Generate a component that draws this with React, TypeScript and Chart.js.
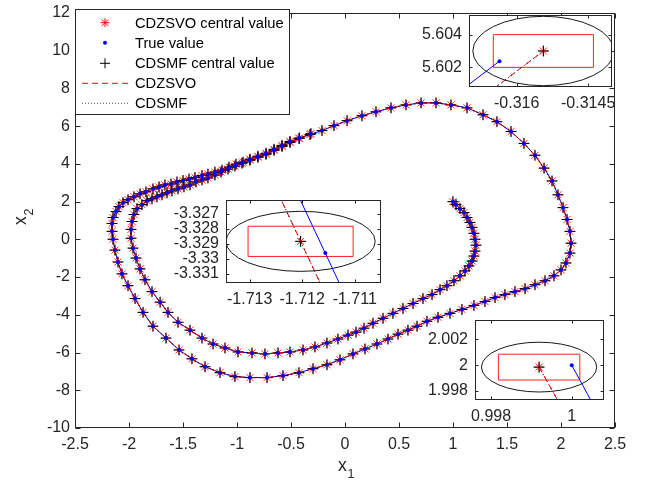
import React, { useEffect, useRef } from "react";
import { Chart, registerables } from "chart.js";

Chart.register(...registerables);

const FONT = '"Liberation Sans", Arial, Helvetica, sans-serif';
const AXIS = "#262626";
const RED = "#ff0000";
const BLUE = "#0000ff";
const BLACK = "#000000";

// ---- true trajectory (x1, x2) ----
const x1Values = [
  1.0, 1.028, 1.065, 1.102, 1.13, 1.157, 1.176, 1.194, 1.204, 1.213, 1.204, 1.194, 1.176, 1.148, 1.111,
  1.065, 1.009, 0.944, 0.88, 0.806, 0.722, 0.63, 0.537, 0.444, 0.352,
  0.259, 0.176, 0.102, 0.028, -0.065, -0.167, -0.278, -0.389, -0.509, -0.62, -0.741, -0.861, -0.991,
  -1.111, -1.222, -1.324, -1.435, -1.546, -1.639, -1.71156, -1.787, -1.852, -1.898, -1.935, -1.963,
  -1.981, -1.981, -1.972, -1.954, -1.926, -1.88, -1.833, -1.787, -1.741, -1.694, -1.648, -1.602,
  -1.546, -1.491, -1.435, -1.38, -1.324, -1.269, -1.204, -1.148, -1.083, -1.019, -0.954, -0.88,
  -0.806, -0.731, -0.657, -0.583, -0.509, -0.426, -0.324, -0.213, -0.102, 0.019, 0.157, 0.287, 0.426,
  0.565, 0.704, 0.843, 0.981, 1.13, 1.278, 1.407, 1.537, 1.657, 1.759, 1.843, 1.917, 1.972, 2.019,
  2.056, 2.083, 2.093, 2.083, 2.046, 2.0, 1.935, 1.852, 1.759, 1.667, 1.574, 1.481, 1.389, 1.296,
  1.194, 1.083, 0.972, 0.861, 0.759, 0.667, 0.583, 0.491, 0.398, 0.296, 0.185, 0.074, -0.046,
  -0.167, -0.296, -0.426, -0.574, -0.722, -0.88, -1.019, -1.157, -1.296, -1.417, -1.537, -1.657,
  -1.778, -1.87, -1.944, -2.009, -2.065, -2.102, -2.13, -2.148, -2.157, -2.157, -2.148, -2.12,
  -2.093, -2.056, -2.009, -1.954, -1.898, -1.843, -1.778, -1.722, -1.667, -1.611, -1.556, -1.5,
  -1.444, -1.389, -1.324, -1.269, -1.204, -1.139, -1.074, -1.009, -0.944, -0.88, -0.806, -0.731,
  -0.657, -0.583, -0.509, -0.421, -0.31636,
];
const x2Values = [
  2.0, 1.839, 1.629, 1.42, 1.158, 0.896, 0.634, 0.32, 0.005, -0.309, -0.623, -0.885, -1.147, -1.409, -1.671,
  -1.933, -2.195, -2.457, -2.666, -2.928, -3.138, -3.4, -3.662, -3.924, -4.185,
  -4.447, -4.709, -4.919, -5.076, -5.286, -5.495, -5.705, -5.862, -5.967, -6.019, -6.071, -6.019, -5.967,
  -5.757, -5.547, -5.233, -4.814, -4.395, -3.871, -3.32962, -2.771, -2.142, -1.566, -0.99, -0.466,
  0.058, 0.529, 0.948, 1.315, 1.629, 1.839, 2.048, 2.153, 2.258, 2.363, 2.467, 2.572,
  2.677, 2.782, 2.886, 3.043, 3.148, 3.253, 3.41, 3.567, 3.724, 3.882, 4.039, 4.196,
  4.353, 4.51, 4.72, 4.929, 5.139, 5.348, 5.558, 5.767, 6.029, 6.291, 6.553, 6.763, 6.972,
  7.129, 7.234, 7.234, 7.129, 6.972, 6.606, 6.239, 5.715, 5.086, 4.458, 3.777, 3.096, 2.363, 1.682,
  1.053, 0.424, -0.204, -0.728, -1.252, -1.619, -1.933, -2.195, -2.404, -2.614, -2.771, -2.928, -3.085, -3.295,
  -3.504, -3.714, -3.924, -4.133, -4.343, -4.605, -4.814, -5.024, -5.286, -5.547, -5.809, -6.071, -6.386,
  -6.648, -6.857, -7.067, -7.224, -7.328, -7.328, -7.276, -7.067, -6.752, -6.333, -5.862, -5.233,
  -4.605, -3.871, -3.138, -2.457, -1.828, -1.2, -0.571, 0.005, 0.424, 0.843, 1.158, 1.472,
  1.734, 1.943, 2.101, 2.258, 2.415, 2.52, 2.677, 2.782, 2.886, 2.938, 3.043, 3.122,
  3.201, 3.279, 3.384, 3.463, 3.567, 3.672, 3.829, 3.986, 4.091, 4.248, 4.405, 4.562,
  4.772, 4.981, 5.191, 5.37, 5.60238,
];

// ---- central estimates at the three zoomed points (start, middle, end) ----
const zsvoInsetX1 = [0.99919, -1.71203, -0.31544];
const zsvoInsetX2 = [1.99985, -3.32884, 5.603];
const smfInsetX1 = [0.99919, -1.71203, -0.31544];
const smfInsetX2 = [1.99985, -3.32884, 5.603];

// ---- bound sets shown in the insets ----
const boxHalfWidth = [0.00101, 0.001, 0.00105];
const boxHalfHeight = [0.001, 0.001, 0.001];
const ellipseSemiX = [0.00143, 0.00142, 0.00148];
const ellipseSemiY = [0.00193, 0.00199, 0.00212];

// ---- ticks ----
const mainXTicks = [-2.5, -2, -1.5, -1, -0.5, 0, 0.5, 1, 1.5, 2, 2.5];
const mainXTickLabels = ["-2.5", "-2", "-1.5", "-1", "-0.5", "0", "0.5", "1", "1.5", "2", "2.5"];
const mainYTicks = [-10, -8, -6, -4, -2, 0, 2, 4, 6, 8, 10, 12];
const mainYTickLabels = ["-10", "-8", "-6", "-4", "-2", "0", "2", "4", "6", "8", "10", "12"];

const insetXTicks = [[0.998, 1], [-1.713, -1.712, -1.711], [-0.316, -0.3145]];
const insetXTickLabels = [["0.998", "1"], ["-1.713", "-1.712", "-1.711"], ["-0.316", "-0.3145"]];
const insetYTicks = [[1.998, 2, 2.002], [-3.331, -3.33, -3.329, -3.328, -3.327], [5.602, 5.604]];
const insetYTickLabels = [["1.998", "2", "2.002"], ["-3.331", "-3.33", "-3.329", "-3.328", "-3.327"], ["5.602", "5.604"]];
const insetXRange = [[0.9976, 1.0008], [-1.71345, -1.7105], [-0.317, -0.314]];
const insetYRange = [[1.9973, 2.0035], [-3.3316, -3.3261], [5.6008, 5.6052]];

const legendLabels = ["CDZSVO central value", "True value", "CDSMF central value", "CDZSVO", "CDSMF"];

// layout of the inset canvases (pixels)
const insetLayouts = [
  { left: 410, top: 305, w: 210, h: 125, l: 65, t: 11, r: 194, b: 95 },
  { left: 150, top: 185, w: 240, h: 130, l: 76, t: 9, r: 231, b: 98 },
  { left: 410, top: 0, w: 243, h: 120, l: 59, t: 9, r: 202, b: 87 },
];

type Pt = { x: number; y: number };
const toPts = (xs: number[], ys: number[]): Pt[] => xs.map((x, i) => ({ x, y: ys[i] }));
const insetIndex = [0, x1Values.indexOf(-1.71156), x1Values.length - 1];

function estimateSeries(ex: number[], ey: number[]): Pt[] {
  const xs = x1Values.slice();
  const ys = x2Values.slice();
  insetIndex.forEach((idx, k) => {
    xs[idx] = ex[k];
    ys[idx] = ey[k];
  });
  return toPts(xs, ys);
}

function buildDatasets(main: boolean): any[] {
  const truePts = toPts(x1Values, x2Values);
  const zsvoPts = estimateSeries(zsvoInsetX1, zsvoInsetX2);
  const smfPts = estimateSeries(smfInsetX1, smfInsetX2);
  return [
    { label: "true line", data: truePts, showLine: true, pointRadius: 0, borderColor: BLUE, borderWidth: 1, fill: false, order: main ? 6 : 1 },
    { label: legendLabels[0], data: zsvoPts, showLine: false, pointStyle: "star", pointRadius: 5, borderColor: "#ff2a2a", backgroundColor: RED, borderWidth: 1, order: 5 },
    { label: legendLabels[2], data: smfPts, showLine: false, pointStyle: "cross", pointRadius: 5.5, borderColor: BLACK, backgroundColor: BLACK, borderWidth: 1, order: 4 },
    { label: legendLabels[3], data: zsvoPts, showLine: true, pointRadius: 0, borderColor: RED, borderWidth: 1, borderDash: [6, 4], fill: false, order: 3 },
    { label: legendLabels[4], data: smfPts, showLine: true, pointRadius: 0, borderColor: BLACK, borderWidth: 1, borderDash: [1, 3], fill: false, order: 2 },
    { label: legendLabels[1], data: truePts, showLine: false, pointStyle: "circle", pointRadius: 2, borderColor: BLUE, backgroundColor: BLUE, borderWidth: 0, order: 0 },
  ];
}

function scaleCfg(axis: "x" | "y", min: number, max: number, ticks: number[], labels: string[], fit: number, padding: number) {
  return {
    type: "linear",
    min,
    max,
    bounds: "data",
    afterBuildTicks: (s: any) => {
      s.ticks = ticks.map((v) => ({ value: v }));
    },
    afterFit: (s: any) => {
      if (axis === "x") s.height = fit;
      else s.width = fit;
    },
    grid: { display: false, drawTicks: false },
    border: { display: false },
    ticks: {
      autoSkip: false,
      maxRotation: 0,
      minRotation: 0,
      padding,
      color: AXIS,
      font: { family: FONT, size: 16, lineHeight: 1 },
      callback: (_v: any, i: number) => labels[i] ?? "",
    },
  };
}

function drawFrame(chart: any, tickLen: number) {
  const { ctx, chartArea, scales } = chart;
  const { left, right, top, bottom } = chartArea;
  const L = Math.round(left) + 0.5, R = Math.round(right) - 0.5, T = Math.round(top) + 0.5, B = Math.round(bottom) - 0.5;
  ctx.save();
  ctx.strokeStyle = AXIS;
  ctx.lineWidth = 1;
  ctx.setLineDash([]);
  ctx.beginPath();
  for (const t of scales.x.ticks) {
    const p = Math.round(scales.x.getPixelForValue(t.value)) + 0.5;
    ctx.moveTo(p, B); ctx.lineTo(p, B - tickLen);
    ctx.moveTo(p, T); ctx.lineTo(p, T + tickLen);
  }
  for (const t of scales.y.ticks) {
    const p = Math.round(scales.y.getPixelForValue(t.value)) + 0.5;
    ctx.moveTo(L, p); ctx.lineTo(L + tickLen, p);
    ctx.moveTo(R, p); ctx.lineTo(R - tickLen, p);
  }
  ctx.stroke();
  ctx.strokeRect(L, T, R - L, B - T);
  ctx.restore();
}

function drawLegend(ctx: CanvasRenderingContext2D) {
  ctx.save();
  ctx.fillStyle = "#ffffff";
  ctx.fillRect(75.5, 9.5, 214, 105);
  ctx.strokeStyle = AXIS;
  ctx.lineWidth = 1;
  ctx.strokeRect(75.5, 9.5, 214, 105);
  const rows = [22.7, 42.7, 63.3, 83.3, 103.3];
  const sx = 105;
  // star
  ctx.strokeStyle = RED;
  ctx.beginPath();
  const r = 4.5, d = r * Math.SQRT1_2, y0 = rows[0];
  ctx.moveTo(sx - r, y0); ctx.lineTo(sx + r, y0);
  ctx.moveTo(sx, y0 - r); ctx.lineTo(sx, y0 + r);
  ctx.moveTo(sx - d, y0 - d); ctx.lineTo(sx + d, y0 + d);
  ctx.moveTo(sx - d, y0 + d); ctx.lineTo(sx + d, y0 - d);
  ctx.stroke();
  // dot
  ctx.fillStyle = BLUE;
  ctx.beginPath();
  ctx.arc(sx, rows[1], 2, 0, Math.PI * 2);
  ctx.fill();
  // plus
  ctx.strokeStyle = BLACK;
  ctx.beginPath();
  ctx.moveTo(sx - 5, rows[2]); ctx.lineTo(sx + 5, rows[2]);
  ctx.moveTo(sx, rows[2] - 5); ctx.lineTo(sx, rows[2] + 5);
  ctx.stroke();
  // dashed red
  ctx.strokeStyle = RED;
  ctx.setLineDash([6, 4]);
  ctx.beginPath();
  ctx.moveTo(82, rows[3]); ctx.lineTo(128, rows[3]);
  ctx.stroke();
  // dotted black
  ctx.strokeStyle = "#555555";
  ctx.setLineDash([1, 2]);
  ctx.beginPath();
  ctx.moveTo(82, rows[4]); ctx.lineTo(128, rows[4]);
  ctx.stroke();
  ctx.setLineDash([]);
  ctx.fillStyle = BLACK;
  ctx.font = `14.7px ${FONT}`;
  ctx.textBaseline = "middle";
  ctx.textAlign = "left";
  legendLabels.forEach((txt, i) => ctx.fillText(txt, 135, rows[i] + 1));
  ctx.restore();
}

function drawAxisTitles(ctx: CanvasRenderingContext2D) {
  ctx.save();
  ctx.fillStyle = AXIS;
  ctx.textBaseline = "alphabetic";
  ctx.textAlign = "left";
  ctx.font = `17.6px ${FONT}`;
  ctx.fillText("x", 338, 471);
  ctx.font = `12.5px ${FONT}`;
  ctx.fillText("1", 347.5, 478);
  ctx.translate(26, 225);
  ctx.rotate(-Math.PI / 2);
  ctx.font = `17.6px ${FONT}`;
  ctx.fillText("x", 0, 0);
  ctx.font = `12.5px ${FONT}`;
  ctx.fillText("2", 9.5, 6.5);
  ctx.restore();
}

function mainConfig(): any {
  return {
    type: "scatter",
    data: { datasets: buildDatasets(true) },
    options: {
      animation: false,
      responsive: false,
      maintainAspectRatio: false,
      devicePixelRatio: 1,
      events: [],
      layout: { padding: { left: 0, top: 8, right: 38, bottom: 0 } },
      plugins: { legend: { display: false }, tooltip: { enabled: false } },
      elements: { line: { tension: 0 } },
      scales: {
        x: scaleCfg("x", -2.5, 2.5, mainXTicks, mainXTickLabels, 61, 9),
        y: scaleCfg("y", -10, 12, mainYTicks, mainYTickLabels, 75, 5),
      },
    },
    plugins: [
      {
        id: "mainDecor",
        beforeDraw(chart: any) {
          const { ctx, width, height } = chart;
          ctx.save();
          ctx.fillStyle = "#ffffff";
          ctx.fillRect(0, 0, width, height);
          ctx.restore();
        },
        afterDraw(chart: any) {
          drawFrame(chart, 5);
          drawLegend(chart.ctx);
          drawAxisTitles(chart.ctx);
        },
      },
    ],
  };
}

function insetConfig(k: number): any {
  const lay = insetLayouts[k];
  return {
    type: "scatter",
    data: { datasets: buildDatasets(false) },
    options: {
      animation: false,
      responsive: false,
      maintainAspectRatio: false,
      devicePixelRatio: 1,
      events: [],
      layout: { padding: { left: 0, top: lay.t, right: lay.w - lay.r, bottom: 0 } },
      plugins: { legend: { display: false }, tooltip: { enabled: false } },
      elements: { line: { tension: 0 } },
      scales: {
        x: scaleCfg("x", insetXRange[k][0], insetXRange[k][1], insetXTicks[k], insetXTickLabels[k], lay.h - lay.b, 9),
        y: scaleCfg("y", insetYRange[k][0], insetYRange[k][1], insetYTicks[k], insetYTickLabels[k], lay.l, 7),
      },
    },
    plugins: [
      {
        id: "insetDecor",
        beforeDraw(chart: any) {
          const { ctx, chartArea } = chart;
          ctx.save();
          ctx.fillStyle = "#ffffff";
          ctx.fillRect(chartArea.left, chartArea.top, chartArea.right - chartArea.left, chartArea.bottom - chartArea.top);
          ctx.restore();
        },
        beforeDatasetsDraw(chart: any) {
          const { ctx, chartArea, scales } = chart;
          const sx = scales.x, sy = scales.y;
          ctx.save();
          ctx.beginPath();
          ctx.rect(chartArea.left, chartArea.top, chartArea.right - chartArea.left, chartArea.bottom - chartArea.top);
          ctx.clip();
          const ex = sx.getPixelForValue(smfInsetX1[k]);
          const ey = sy.getPixelForValue(smfInsetX2[k]);
          const rx = Math.abs(sx.getPixelForValue(smfInsetX1[k] + ellipseSemiX[k]) - ex);
          const ry = Math.abs(sy.getPixelForValue(smfInsetX2[k] + ellipseSemiY[k]) - ey);
          ctx.strokeStyle = "#1a1a1a";
          ctx.lineWidth = 1;
          ctx.beginPath();
          ctx.ellipse(ex, ey, rx, ry, 0, 0, Math.PI * 2);
          ctx.stroke();
          const x0 = sx.getPixelForValue(zsvoInsetX1[k] - boxHalfWidth[k]);
          const x1 = sx.getPixelForValue(zsvoInsetX1[k] + boxHalfWidth[k]);
          const y0 = sy.getPixelForValue(zsvoInsetX2[k] + boxHalfHeight[k]);
          const y1 = sy.getPixelForValue(zsvoInsetX2[k] - boxHalfHeight[k]);
          ctx.strokeStyle = "#ff2020";
          ctx.beginPath();
          ctx.rect(x0, y0, x1 - x0, y1 - y0);
          ctx.stroke();
          ctx.restore();
        },
        afterDraw(chart: any) {
          drawFrame(chart, 3);
        },
      },
    ],
  };
}

export default function App() {
  const mainRef = useRef<HTMLCanvasElement | null>(null);
  const i0 = useRef<HTMLCanvasElement | null>(null);
  const i1 = useRef<HTMLCanvasElement | null>(null);
  const i2 = useRef<HTMLCanvasElement | null>(null);
  const insetRefs = [i0, i1, i2];

  useEffect(() => {
    document.body.style.margin = "0";
    const charts: Chart[] = [];
    if (mainRef.current) charts.push(new Chart(mainRef.current, mainConfig()));
    insetRefs.forEach((ref, k) => {
      if (ref.current) charts.push(new Chart(ref.current, insetConfig(k)));
    });
    return () => charts.forEach((c) => c.destroy());
  }, []);

  return (
    <div style={{ position: "absolute", left: 0, top: 0, width: 653, height: 489, background: "#fff" }}>
      <canvas ref={mainRef} width={653} height={489} style={{ position: "absolute", left: 0, top: 0, width: 653, height: 489 }} />
      {insetLayouts.map((lay, k) => (
        <canvas
          key={k}
          ref={insetRefs[k]}
          width={lay.w}
          height={lay.h}
          style={{ position: "absolute", left: lay.left, top: lay.top, width: lay.w, height: lay.h }}
        />
      ))}
    </div>
  );
}
